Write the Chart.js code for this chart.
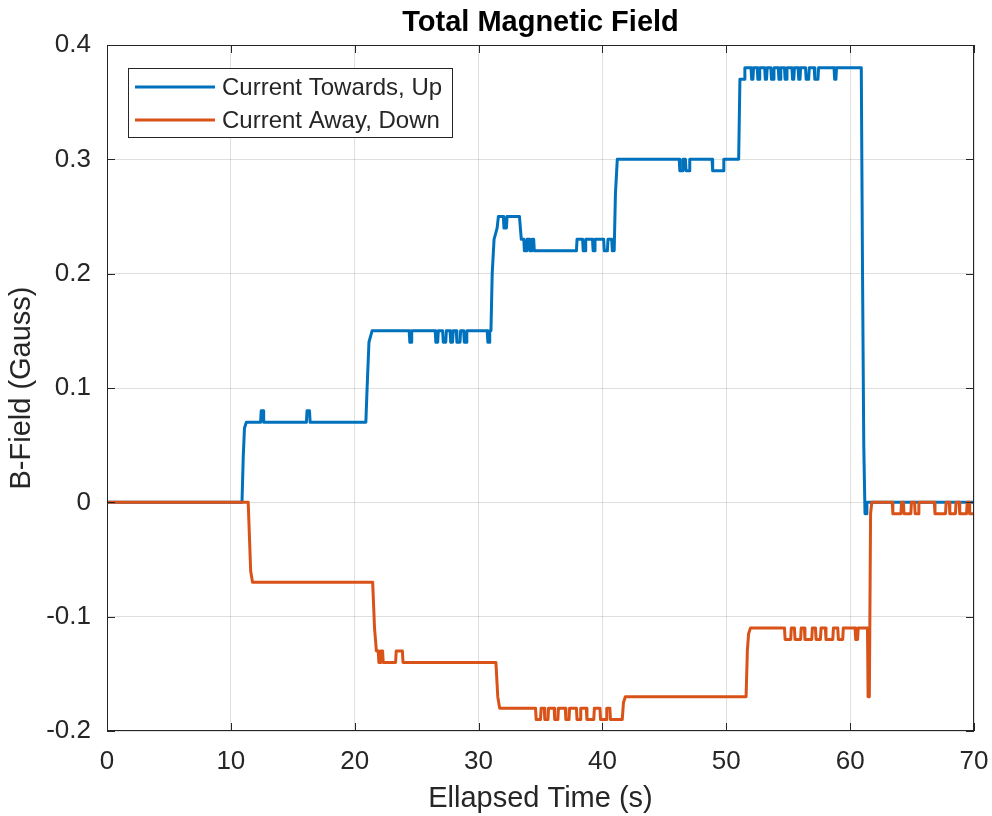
<!DOCTYPE html>
<html>
<head>
<meta charset="utf-8">
<script src="https://cdn.jsdelivr.net/npm/chart.js@4.4.1/dist/chart.umd.min.js"></script>
<style>html,body{margin:0;padding:0;background:#fff;}canvas{display:block;}</style>
</head>
<body>
<canvas id="c" width="992" height="816"></canvas>
<script>
const chartTitle = 'Total Magnetic Field';
const xAxisLabel = 'Ellapsed Time (s)';
const yAxisLabel = 'B-Field (Gauss)';
const seriesNames = ['Current Towards, Up', 'Current Away, Down'];
const seriesColors = ['#0072BD', '#D95319'];
const xTickValues = [0, 10, 20, 30, 40, 50, 60, 70];
const xTickLabels = ['0', '10', '20', '30', '40', '50', '60', '70'];
const yTickValues = [-0.2, -0.1, 0, 0.1, 0.2, 0.3, 0.4];
const yTickLabels = ['-0.2', '-0.1', '0', '0.1', '0.2', '0.3', '0.4'];

// [time (s), field (Gauss)]
const towardsUp = [
  [0,0],[10.9,0],[11.0,0.04],[11.1,0.065],[11.25,0.07],
  [12.4,0.07],[12.45,0.08],[12.6,0.08],[12.65,0.07],
  [16.1,0.07],[16.15,0.08],[16.35,0.08],[16.4,0.07],
  [20.9,0.07],[21.0,0.1],[21.15,0.14],[21.4,0.15],
  [24.4,0.15],[24.45,0.14],[24.55,0.14],[24.6,0.15],
  [26.5,0.15],[26.55,0.14],[26.7,0.14],[26.75,0.15],
  [27.1,0.15],[27.15,0.14],[27.35,0.14],[27.4,0.15],
  [27.7,0.15],[27.75,0.14],[27.9,0.14],[27.95,0.15],
  [28.2,0.15],[28.25,0.14],[28.5,0.14],[28.55,0.15],
  [28.8,0.15],[28.85,0.14],[29.0,0.14],[29.05,0.15],
  [30.7,0.15],[30.75,0.14],[30.85,0.14],[30.9,0.15],
  [31.0,0.15],[31.1,0.2],[31.25,0.23],[31.5,0.24],[31.6,0.25],
  [32.0,0.25],[32.05,0.24],[32.25,0.24],[32.3,0.25],
  [33.3,0.25],[33.45,0.23],[33.65,0.23],[33.7,0.22],[33.85,0.22],[33.9,0.23],
  [34.1,0.23],[34.15,0.22],[34.3,0.22],[34.35,0.23],[34.45,0.23],[34.5,0.22],
  [37.9,0.22],[37.95,0.23],[38.4,0.23],[38.45,0.22],[38.6,0.22],[38.65,0.23],
  [39.2,0.23],[39.25,0.22],[39.35,0.22],[39.4,0.23],
  [40.1,0.23],[40.15,0.22],[40.4,0.22],[40.45,0.23],[40.75,0.23],[40.8,0.22],
  [40.95,0.22],[41.05,0.27],[41.2,0.3],
  [46.2,0.3],[46.25,0.29],[46.45,0.29],[46.5,0.3],[46.7,0.3],[46.75,0.29],[47.0,0.29],[47.05,0.3],
  [48.85,0.3],[48.9,0.29],[49.75,0.29],[49.8,0.3],
  [51.0,0.3],[51.1,0.37],[51.45,0.37],[51.5,0.38],
  [52.0,0.38],[52.05,0.37],[52.15,0.37],[52.2,0.38],
  [52.5,0.38],[52.55,0.37],[52.65,0.37],[52.7,0.38],
  [53.1,0.38],[53.15,0.37],[53.25,0.37],[53.3,0.38],
  [53.6,0.38],[53.65,0.37],[53.8,0.37],[53.85,0.38],
  [54.2,0.38],[54.25,0.37],[54.35,0.37],[54.4,0.38],
  [54.7,0.38],[54.75,0.37],[54.85,0.37],[54.9,0.38],
  [55.3,0.38],[55.35,0.37],[55.45,0.37],[55.5,0.38],
  [55.8,0.38],[55.85,0.37],[55.95,0.37],[56.0,0.38],
  [56.4,0.38],[56.45,0.37],[56.65,0.37],[56.7,0.38],
  [57.1,0.38],[57.15,0.37],[57.4,0.37],[57.45,0.38],
  [58.7,0.38],[58.75,0.37],[58.85,0.37],[58.9,0.38],
  [60.9,0.38],[61.0,0.2],[61.1,0.05],[61.2,-0.01],[61.3,-0.01],[61.35,0],[70,0]
];

const awayDown = [
  [0,0],[11.4,0],[11.5,-0.03],[11.6,-0.06],[11.75,-0.07],
  [21.45,-0.07],[21.6,-0.11],[21.75,-0.13],[21.9,-0.13],[21.95,-0.14],[22.05,-0.14],
  [22.1,-0.13],[22.25,-0.13],[22.3,-0.14],
  [23.3,-0.14],[23.35,-0.13],[23.85,-0.13],[23.9,-0.14],
  [31.4,-0.14],[31.55,-0.17],[31.7,-0.18],
  [34.6,-0.18],[34.65,-0.19],[35.0,-0.19],[35.05,-0.18],[35.3,-0.18],[35.35,-0.19],
  [35.6,-0.19],[35.65,-0.18],[36.1,-0.18],[36.15,-0.19],[36.4,-0.19],[36.45,-0.18],
  [37.0,-0.18],[37.05,-0.19],[37.3,-0.19],[37.35,-0.18],[37.9,-0.18],[37.95,-0.19],
  [38.2,-0.19],[38.25,-0.18],[38.7,-0.18],[38.75,-0.19],[39.3,-0.19],[39.35,-0.18],
  [39.8,-0.18],[39.85,-0.19],[40.3,-0.19],[40.35,-0.18],[40.6,-0.18],[40.65,-0.19],
  [41.6,-0.19],[41.7,-0.175],[41.85,-0.17],
  [51.6,-0.17],[51.7,-0.13],[51.8,-0.115],[51.95,-0.11],
  [54.7,-0.11],[54.75,-0.12],[55.2,-0.12],[55.25,-0.11],[55.5,-0.11],[55.55,-0.12],
  [56.0,-0.12],[56.05,-0.11],[56.3,-0.11],[56.35,-0.12],[56.9,-0.12],[56.95,-0.11],
  [57.2,-0.11],[57.25,-0.12],[57.6,-0.12],[57.65,-0.11],[58.0,-0.11],[58.05,-0.12],
  [58.6,-0.12],[58.65,-0.11],[59.0,-0.11],[59.05,-0.12],[59.4,-0.12],[59.45,-0.11],
  [60.4,-0.11],[60.45,-0.12],[60.6,-0.12],[60.65,-0.11],
  [61.4,-0.11],[61.45,-0.17],[61.55,-0.17],[61.65,-0.01],[61.75,0],
  [63.4,0],[63.45,-0.01],[64.1,-0.01],[64.15,0],[64.3,0],[64.35,-0.01],[64.9,-0.01],[64.95,0],
  [65.2,0],[65.25,-0.01],[65.5,-0.01],[65.55,0],
  [66.8,0],[66.85,-0.01],[67.7,-0.01],[67.75,0],[68.0,0],[68.05,-0.01],[68.5,-0.01],[68.55,0],
  [68.8,0],[68.85,-0.01],[69.4,-0.01],[69.45,0],[69.6,0],[69.65,-0.01],[70,-0.01]
];

const FONT = "'Liberation Sans', Arial, Helvetica, sans-serif";
const TXT = '#262626';

const framePlugin = {
  id: 'matlabFrame',
  afterDraw(chart) {
    const ctx = chart.ctx;
    const a = chart.chartArea;
    const xs = chart.scales.x, ys = chart.scales.y;
    ctx.save();
    ctx.strokeStyle = TXT;
    ctx.lineWidth = 1;
    ctx.strokeRect(a.left + 0.5, a.top + 0.5, a.right - a.left - 1, a.bottom - a.top - 1);
    const tl = 8;
    ctx.beginPath();
    xTickValues.forEach(v => {
      const px = Math.round(xs.getPixelForValue(v)) + 0.5;
      ctx.moveTo(px, a.bottom); ctx.lineTo(px, a.bottom - tl);
      ctx.moveTo(px, a.top); ctx.lineTo(px, a.top + tl);
    });
    yTickValues.forEach(v => {
      const py = Math.round(ys.getPixelForValue(v)) + 0.5;
      ctx.moveTo(a.left, py); ctx.lineTo(a.left + tl, py);
      ctx.moveTo(a.right, py); ctx.lineTo(a.right - tl, py);
    });
    ctx.stroke();
    ctx.fillStyle = '#000';
    ctx.font = 'bold 29px ' + FONT;
    ctx.textAlign = 'center';
    ctx.textBaseline = 'alphabetic';
    ctx.fillText(chartTitle, (a.left + a.right) / 2, 31);
    const bx = 128, by = 68, bw = 325, bh = 70;
    ctx.fillStyle = '#fff';
    ctx.fillRect(bx, by, bw, bh);
    ctx.strokeStyle = TXT;
    ctx.lineWidth = 1;
    ctx.strokeRect(bx + 0.5, by + 0.5, bw - 1, bh - 1);
    const rows = [87, 120];
    ctx.font = '24px ' + FONT;
    ctx.textAlign = 'left';
    ctx.textBaseline = 'middle';
    chart.data.datasets.forEach((ds, i) => {
      ctx.strokeStyle = ds.borderColor;
      ctx.lineWidth = 3;
      ctx.beginPath();
      ctx.moveTo(135, rows[i]); ctx.lineTo(215, rows[i]);
      ctx.stroke();
      ctx.fillStyle = TXT;
      ctx.fillText(ds.label, 222, rows[i] + 1);
    });
    ctx.restore();
  }
};

new Chart(document.getElementById('c'), {
  type: 'line',
  data: {
    datasets: [
      { label: seriesNames[0], data: towardsUp.map(([x, y]) => ({ x, y })), borderColor: seriesColors[0],
        borderWidth: 3, pointRadius: 0, tension: 0, fill: false, order: 2, borderJoinStyle: 'round' },
      { label: seriesNames[1], data: awayDown.map(([x, y]) => ({ x, y })), borderColor: seriesColors[1],
        borderWidth: 3, pointRadius: 0, tension: 0, fill: false, order: 1, borderJoinStyle: 'round' }
    ]
  },
  options: {
    responsive: false,
    animation: false,
    devicePixelRatio: 1,
    layout: { padding: { left: 0, right: 18, top: 45, bottom: 0 } },
    plugins: { legend: { display: false }, title: { display: false }, tooltip: { enabled: false } },
    scales: {
      x: {
        type: 'linear', min: 0, max: 70,
        afterBuildTicks: s => { s.ticks = xTickValues.map(v => ({ value: v })); },
        afterFit: s => { s.height = 85; s.paddingLeft = 0; s.paddingRight = 0; },
        grid: { color: 'rgba(38,38,38,0.15)', drawTicks: false, lineWidth: 1 },
        border: { display: false },
        ticks: { color: TXT, font: { family: FONT, size: 26 }, padding: 15, maxRotation: 0, autoSkip: false,
                 callback: (v, i) => xTickLabels[i] },
        title: { display: true, text: xAxisLabel, color: TXT, font: { family: FONT, size: 29 }, padding: { top: 0, bottom: 0 } }
      },
      y: {
        type: 'linear', min: -0.2, max: 0.4,
        afterBuildTicks: s => { s.ticks = yTickValues.map(v => ({ value: v })); },
        afterFit: s => { s.width = 107; s.paddingTop = 0; s.paddingBottom = 0; },
        grid: { color: 'rgba(38,38,38,0.15)', drawTicks: false, lineWidth: 1 },
        border: { display: false },
        ticks: { color: TXT, font: { family: FONT, size: 26 }, padding: 16, autoSkip: false,
                 callback: (v, i) => yTickLabels[i] },
        title: { display: true, text: yAxisLabel, color: TXT, font: { family: FONT, size: 29 }, padding: { top: 5, bottom: 0 } }
      }
    }
  },
  plugins: [framePlugin]
});
</script>
</body>
</html>
